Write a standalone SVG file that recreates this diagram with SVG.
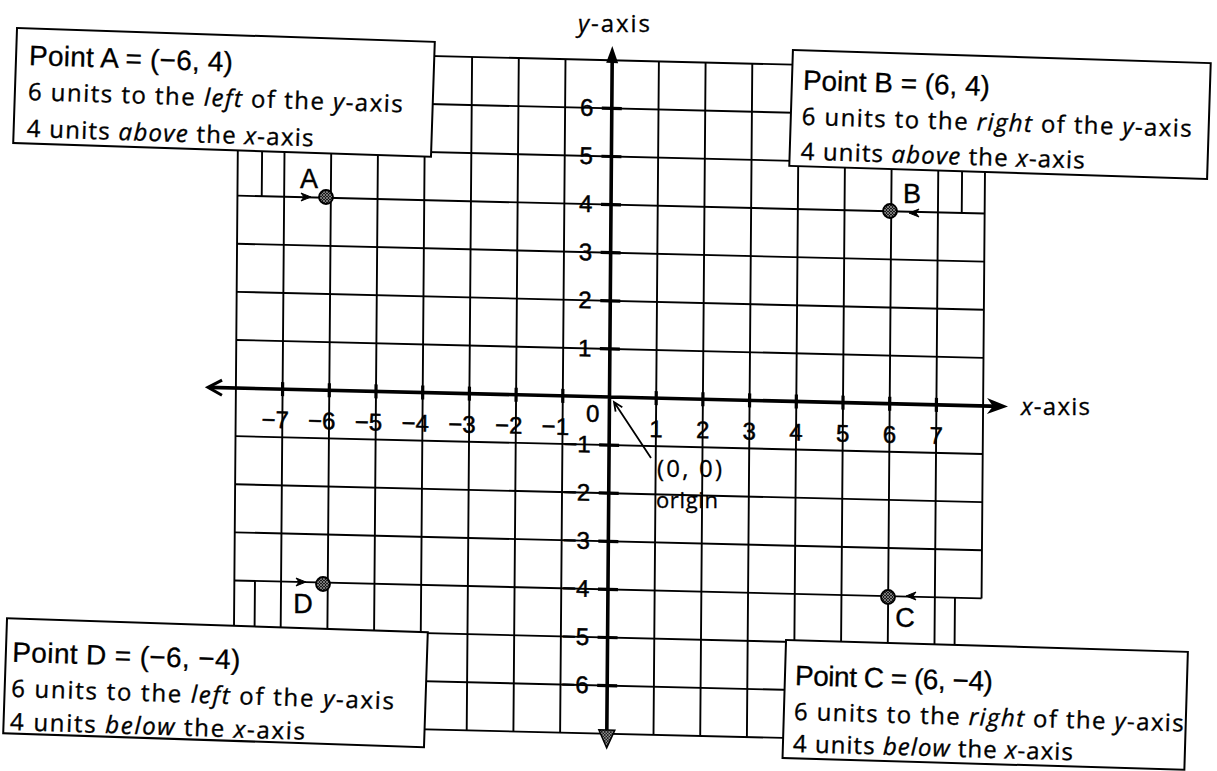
<svg xmlns="http://www.w3.org/2000/svg" width="1217" height="771" viewBox="0 0 1217 771">
<defs>
<style>
.g{stroke:#000;stroke-width:1.9;fill:none}
.ax{stroke:#000;stroke-width:3.6;fill:none}
.tk{stroke:#000;stroke-width:3.2;fill:none}
.num{font-family:"Liberation Sans",Arial,sans-serif;font-size:24px;fill:#000;stroke:#000;stroke-width:0.5}
.box{fill:#fff;stroke:#000;stroke-width:2}
.t1{font-family:"Liberation Sans",Arial,sans-serif;font-size:28px;fill:#000;stroke:#000;stroke-width:0.3}
.t2{font-family:"Open Sans","DejaVu Sans",sans-serif;font-size:24px;fill:#000;stroke:#000;stroke-width:0.35}
.it{font-style:italic}
.lbl{font-family:"Liberation Sans",Arial,sans-serif;font-size:27px;fill:#000;stroke:#000;stroke-width:0.4}
.ann{font-family:"Open Sans","DejaVu Sans",sans-serif;fill:#000;stroke:#000;stroke-width:0.3}
.dot{fill:url(#hatch);stroke:#000;stroke-width:1.8}
.ah{fill:#000;stroke:#000;stroke-width:1}
</style>
<pattern id="hatch" width="3" height="3" patternUnits="userSpaceOnUse">
<rect width="3" height="3" fill="#1a1a1a"/>
<path d="M0 0L3 3M0 3L3 0" stroke="#999" stroke-width="0.7"/>
</pattern>
</defs>

<g id="grid" transform="matrix(1 0.024 -0.008 1 3.176 -14.628)">
<path class="g" d="M235.9 60.3V733.7M282.6 60.3V733.7M329.3 60.3V733.7M376 60.3V733.7M422.7 60.3V733.7M469.4 60.3V733.7M516.1 60.3V733.7M562.8 60.3V733.7M656.2 60.3V733.7M702.9 60.3V733.7M749.6 60.3V733.7M796.3 60.3V733.7M843 60.3V733.7M889.7 60.3V733.7M936.4 60.3V733.7M983.1 60.3V589.4"/>
<path class="g" d="M235.9 60.3H983.1M235.9 108.4H983.1M235.9 156.5H983.1M235.9 204.6H983.1M235.9 252.7H983.1M235.9 300.8H983.1M235.9 348.9H983.1M235.9 445.1H983.1M235.9 493.2H983.1M235.9 541.3H983.1M235.9 589.4H983.1M235.9 637.5H983.1M235.9 685.6H983.1M235.9 733.7H983.1"/>
<path class="g" d="M260.2 156.5V204.6M960.2 156.5V204.6M256.5 589.4V637.5M956.5 589.4V637.5"/>
<path class="ax" d="M209 397H1000M609.5 52V740"/>
<path class="tk" d="M599.5 108.4H619.5M599.5 156.5H619.5M599.5 204.6H619.5M599.5 252.7H619.5M599.5 300.8H619.5M599.5 348.9H619.5M599.5 445.1H619.5M599.5 493.2H619.5M599.5 541.3H619.5M599.5 589.4H619.5M599.5 637.5H619.5M599.5 685.6H619.5"/>
<path class="tk" d="M282.6 390V404M329.3 390V404M376 390V404M422.7 390V404M469.4 390V404M516.1 390V404M562.8 390V404M656.2 390V404M702.9 390V404M749.6 390V404M796.3 390V404M843 390V404M889.7 390V404M936.4 390V404"/>
<path d="M222 389.5L208 397L222 404.5" fill="none" stroke="#000" stroke-width="3"/>
<path d="M1008 397L987 389L993 397L987 405Z" fill="#000"/>
<path d="M609.5 46L603.5 63L615.5 63Z" fill="#000"/>
<path d="M609.5 748L601.5 730L617.5 730Z" fill="url(#hatch)" stroke="#000" stroke-width="1.5"/>
<g class="num" text-anchor="end">
<text x="591" y="116.4">6</text>
<text x="591" y="164.5">5</text>
<text x="591" y="212.6">4</text>
<text x="591" y="260.7">3</text>
<text x="591" y="308.8">2</text>
<text x="591" y="356.9">1</text>
<text x="591" y="453.1">−1</text>
<text x="591" y="501.2">−2</text>
<text x="591" y="549.3">−3</text>
<text x="591" y="597.4">−4</text>
<text x="591" y="645.5">−5</text>
<text x="591" y="693.6">−6</text>
<text x="289.1" y="436">−7</text>
<text x="335.8" y="436">−6</text>
<text x="382.5" y="436">−5</text>
<text x="429.2" y="436">−4</text>
<text x="475.9" y="436">−3</text>
<text x="522.6" y="436">−2</text>
<text x="569.3" y="436">−1</text>
</g>
<g class="num" text-anchor="middle">
<text x="593" y="422">0</text>
<text x="656.2" y="436">1</text>
<text x="702.9" y="436">2</text>
<text x="749.6" y="436">3</text>
<text x="796.3" y="436">4</text>
<text x="843" y="436">5</text>
<text x="889.7" y="436">6</text>
<text x="936.4" y="436">7</text>
</g>
</g>

<g id="axis-labels">
<text class="ann" x="578" y="32" font-size="24" textLength="72"><tspan class="it">y</tspan>-axis</text>
<text class="ann" x="1021" y="415" font-size="24" textLength="69"><tspan class="it">x</tspan>-axis</text>
</g>

<g id="connectors">
<polygon class="ah" points="311,197 301,193 304,197 301,201"/>
<polygon class="ah" points="306,582 296,578 299,582 296,586"/>
<polygon class="ah" points="909,213 919,209 916,213 919,217"/>
<polygon class="ah" points="906,596 916,592 913,596 916,600"/>
<path d="M651 458L614 402M622.3 407.3L614 402L615.6 411.7" fill="none" stroke="#000" stroke-width="1.8"/>
</g>

<g id="origin-label">
<text class="ann" x="657" y="477" font-size="24" textLength="65">(0, 0)</text>
<text class="ann" x="656" y="508" font-size="22" textLength="62">origin</text>
</g>

<g id="point-A">
<circle class="dot" cx="326" cy="197" r="7"/>
<text class="lbl" x="309" y="188" text-anchor="middle">A</text>
</g>
<g id="point-B">
<circle class="dot" cx="890" cy="211" r="7"/>
<text class="lbl" x="912" y="203" text-anchor="middle">B</text>
</g>
<g id="point-C">
<circle class="dot" cx="888" cy="597" r="7"/>
<text class="lbl" x="905" y="627" text-anchor="middle">C</text>
</g>
<g id="point-D">
<circle class="dot" cx="323" cy="584" r="7"/>
<text class="lbl" x="303" y="613" text-anchor="middle">D</text>
</g>

<g id="box-A" transform="translate(224 92.4) rotate(1.9)">
<rect class="box" x="-209" y="-57.5" width="418" height="115"/>
<text class="t1" x="-196" y="-21" textLength="204">Point A = (−6, 4)</text>
<text class="t2" x="-196" y="14" textLength="375">6 units to the <tspan class="it">left</tspan> of the <tspan class="it">y</tspan>-axis</text>
<text class="t2" x="-196" y="51" textLength="287">4 units <tspan class="it">above</tspan> the <tspan class="it">x</tspan>-axis</text>
</g>

<g id="box-B" transform="translate(1000 114.5) rotate(1.8)">
<rect class="box" x="-209" y="-58" width="418" height="116"/>
<text class="t1" x="-198" y="-18.5" textLength="187">Point B = (6, 4)</text>
<text class="t2" x="-198" y="16.4" textLength="390">6 units to the <tspan class="it">right</tspan> of the <tspan class="it">y</tspan>-axis</text>
<text class="t2" x="-198" y="51.4" textLength="284">4 units <tspan class="it">above</tspan> the <tspan class="it">x</tspan>-axis</text>
</g>

<g id="box-D" transform="translate(215.5 682.75) rotate(1.9)">
<rect class="box" x="-210.5" y="-57.5" width="421" height="115"/>
<text class="t1" x="-204" y="-14.3" textLength="228">Point D = (−6, −4)</text>
<text class="t2" x="-204" y="20.7" textLength="383">6 units to the <tspan class="it">left</tspan> of the <tspan class="it">y</tspan>-axis</text>
<text class="t2" x="-204" y="54" textLength="295">4 units <tspan class="it">below</tspan> the <tspan class="it">x</tspan>-axis</text>
</g>

<g id="box-C" transform="translate(985.2 704.9) rotate(1.7)">
<rect class="box" x="-201" y="-59" width="402" height="118"/>
<text class="t1" x="-191" y="-14.2" textLength="198">Point C = (6, −4)</text>
<text class="t2" x="-191" y="20.7" textLength="390">6 units to the <tspan class="it">right</tspan> of the <tspan class="it">y</tspan>-axis</text>
<text class="t2" x="-191" y="52.8" textLength="280">4 units <tspan class="it">below</tspan> the <tspan class="it">x</tspan>-axis</text>
</g>
</svg>
